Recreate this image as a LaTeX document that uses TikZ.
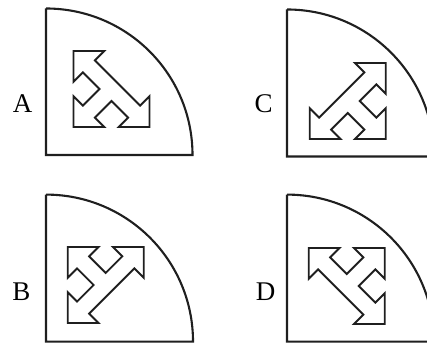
\documentclass[tikz,border=0pt]{standalone}
\usepackage{fontspec}
\setmainfont{Liberation Serif}
\begin{document}
\begin{tikzpicture}[x=1pt,y=1pt,
  panel/.style={draw=black!88, line width=2.1pt},
  arrowline/.style={draw=black!88, line width=1.9pt, line join=miter},
  lbl/.style={inner sep=0pt, font=\fontsize{27}{32}\selectfont}]
\useasboundingbox (0,0) rectangle (427,342);
\clip (0,0) rectangle (427,342);
\newcommand\trisarrow{%
  \draw[arrowline] (-1,1) -- (-0.19,1) -- (-0.4365,0.7535) -- (0.7535,-0.4365)
    -- (1,-0.19) -- (1,-1) -- (0.19,-1) -- (0.4365,-0.7535) -- (0,-0.317)
    -- (-0.4365,-0.7535) -- (-0.19,-1) -- (-1,-1) -- (-1,-0.19)
    -- (-0.7535,-0.4365) -- (-0.317,0) -- (-0.7535,0.4365) -- (-1,0.19) -- cycle;}
% Panel A
\coordinate (cA) at (46,187);
\draw[panel] ([yshift=146.5pt]cA) -- (cA) -- ([xshift=146.5pt]cA) arc (0:90:146.5);
\begin{scope}[shift={(111.5,253)}, scale=38]\trisarrow\end{scope}
\node[lbl] (lA) at (22.5,238) {A};
% Panel C
\coordinate (cC) at (287,185.5);
\draw[panel] ([yshift=147pt]cC) -- (cC) -- ([xshift=147pt]cC) arc (0:90:147);
\begin{scope}[shift={(347.7,241)}, scale=38, rotate=90]\trisarrow\end{scope}
\node[lbl] (lC) at (263.7,238) {C};
% Panel B
\coordinate (cB) at (46,0.4);
\draw[panel] ([yshift=147pt]cB) -- (cB) -- ([xshift=147pt]cB) arc (0:90:147);
\begin{scope}[shift={(105.7,57)}, scale=38, rotate=-90]\trisarrow\end{scope}
\node[lbl] (lB) at (21.3,50) {B};
% Panel D
\coordinate (cD) at (287,0.4);
\draw[panel] ([yshift=147pt]cD) -- (cD) -- ([xshift=147pt]cD) arc (0:90:147);
\begin{scope}[shift={(346.7,56)}, scale=38, rotate=180]\trisarrow\end{scope}
\node[lbl] (lD) at (265.5,50) {D};
\end{tikzpicture}
\end{document}
